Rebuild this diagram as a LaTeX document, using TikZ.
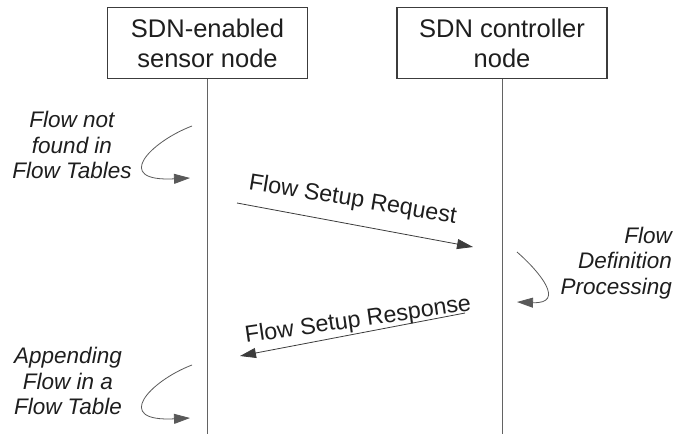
\documentclass[tikz,border=0pt]{standalone}
\usepackage{fontspec}
\setmainfont{Liberation Sans}
\usetikzlibrary{arrows.meta}
\definecolor{ln_grey}{RGB}{60, 60, 60}
\definecolor{txt_grey}{RGB}{30, 30, 30}
\tikzstyle{box}=[rectangle,draw=ln_grey,line width=1.2pt,fill=white,text=txt_grey,
  minimum width=200pt,minimum height=71pt,align=center,inner sep=2pt,
  font=\fontsize{25.5}{30}\selectfont]
\tikzstyle{note}=[text=txt_grey,inner sep=0pt,font=\fontsize{22.5}{25.5}\selectfont\itshape]
\tikzstyle{life}=[draw=ln_grey!80,line width=0.9pt]
\tikzstyle{msg}=[draw=ln_grey,line width=0.8pt,-{Triangle[length=16pt,width=10pt]}]
\tikzstyle{loop}=[draw=ln_grey!85,line width=0.8pt,-{Triangle[length=16pt,width=10pt]}]
\tikzstyle{msglbl}=[text=txt_grey,anchor=base west,inner sep=0pt,
  font=\fontsize{23.3}{27}\selectfont]
\tikzstyle{none}=[inner sep=0pt]

\begin{document}
\begin{tikzpicture}[x=1pt,y=-1pt]
            \useasboundingbox (0,0) rectangle (676,434);
            \node [style=box] (sn) at (207.5, 43) {SDN-enabled\\sensor node};
            \node [style=box, minimum width=210pt] (cn) at (502, 43) {SDN controller\\node};
            \node [style=none] (1) at (207.5, 434) {};
            \node [style=none] (2) at (502, 434) {};
            \node [style=none] (3) at (237, 203) {}; % request
            \node [style=none] (4) at (473, 247) {};
            \node [style=none] (5) at (465, 313) {}; % response
            \node [style=none] (6) at (240, 356) {};
            \node [style=none] (7) at (192, 126) {};
            \node [style=none] (8) at (190, 178) {};
            \node [style=none] (9) at (517, 252) {};
            \node [style=none] (10) at (517, 302) {};
            \node [style=none] (11) at (192, 365) {};
            \node [style=none] (12) at (190, 418) {};
            \node [style=note, align=center] (n1) at (72, 145) {Flow not\\found in\\Flow Tables};
            \node [style=note, align=right, anchor=east] (n2) at (672, 263) {Flow\\Definition\\Processing};
            \node [style=note, align=center] (n3) at (68, 381) {Appending\\Flow in a\\Flow Table};
            \node [style=msglbl, rotate=-9.4] (req) at (248, 189) {Flow Setup Request};
            \node [style=msglbl, rotate=8.2] (resp) at (246, 343) {Flow Setup Response};
            \draw [style=life] (sn) to (1.center);
            \draw [style=life] (cn) to (2.center);
            \draw [style=msg] (3.center) to (4.center);
            \draw [style=msg] (5.center) to (6.center);
            \draw [style=loop] (7.center) .. controls (150, 142) and (112, 182) .. (8.center);
            \draw [style=loop] (9.center) .. controls (540, 272) and (566, 304) .. (10.center);
            \draw [style=loop] (11.center) .. controls (150, 381) and (112, 422) .. (12.center);
    \end{tikzpicture}
\end{document}
